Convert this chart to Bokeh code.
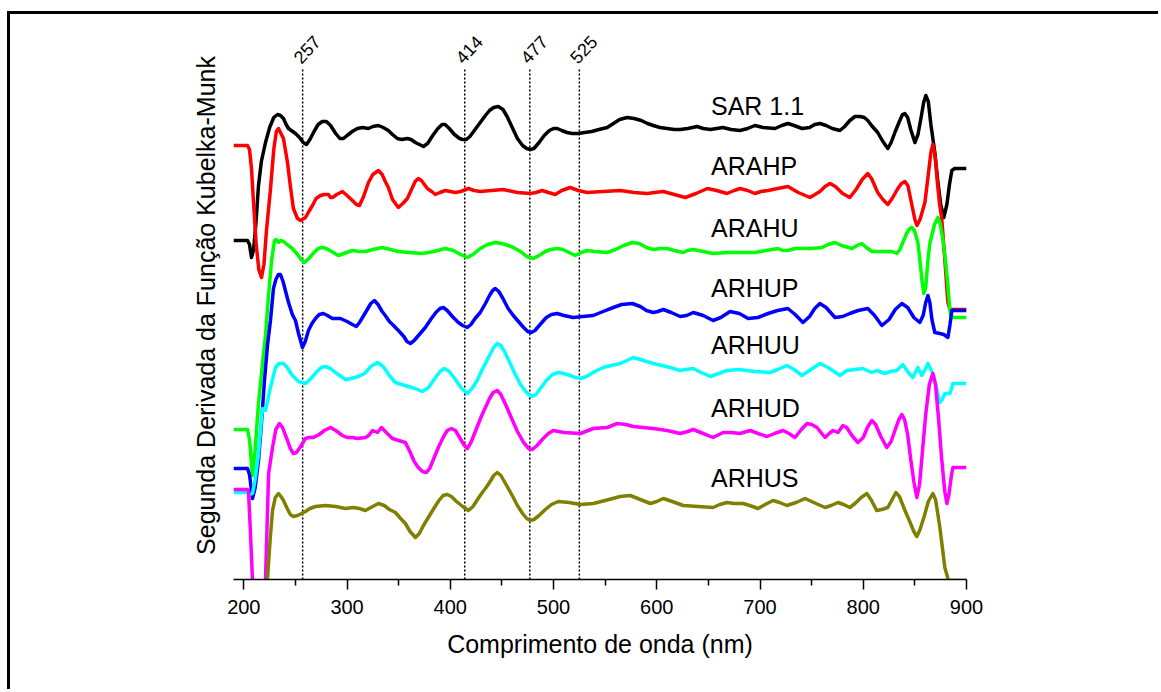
from bokeh.plotting import figure
from bokeh.models import FixedTicker, Range1d
from bokeh.embed import file_html
from bokeh.resources import INLINE
from bokeh.core.properties import value

FONT = "Liberation Sans"

# Second derivative of the Kubelka-Munk function, one trace per sample
# (wavelength in nm, stacked values in arbitrary units)
sar_nm = [190, 203.6, 205.5, 207.4, 209.5, 212, 214.2, 217, 221, 225, 229, 232.6, 235.5, 238.4, 241,
          243.3, 246, 250, 254, 257.5, 260.7, 264, 268, 272, 276, 280, 284, 289, 293, 296.5, 300,
          305, 310, 315, 320.7, 325, 330.4, 335, 340, 344, 348.7, 353, 358.4, 362, 366.2, 370,
          374, 378, 383, 388, 392, 395, 399, 404, 409, 412, 415.5, 419, 424, 429, 434, 438, 442,
          446.5, 451, 455, 460, 465, 470, 474, 477.5, 481, 486, 491, 496, 500, 503.6, 508, 513,
          518, 524, 530, 537, 544, 552, 558, 564, 571.4, 578, 585, 591, 596.6, 603, 610, 617,
          622.7, 630, 639, 645, 652, 658, 664, 672, 680.7, 688, 695, 703, 714.5, 721, 727, 733,
          740.7, 748, 753, 758, 764, 770, 777.4, 782, 787, 792, 797, 801, 804.4, 808, 814, 819,
          823.8, 827, 831, 835, 838, 840.3, 843, 846, 850, 853, 856, 858.5, 860.6, 863, 865.5,
          869.3, 872, 875, 878, 881, 883.5, 885.8, 888.5, 900]
sar_val = [339, 339, 335, 322, 330, 360, 394, 418, 437, 452, 462, 465, 464, 461, 455,
           451, 449, 446, 442, 437, 435, 440, 448, 455, 458, 458, 454, 446, 441, 441, 444,
           448, 451, 452, 451, 453, 454, 452, 449, 445, 441, 440, 441, 440, 437, 435,
           433, 436, 444, 451, 455, 455, 451, 445, 441, 440, 440, 443, 450, 457, 464, 469, 472,
           473, 470, 463, 452, 441, 434, 431, 430, 431, 437, 444, 449, 451, 451, 449, 447,
           446, 446, 447, 448, 450, 452, 456, 460, 462, 461, 459, 456, 454, 452, 451, 450,
           450, 451, 453, 451, 450, 451, 452, 450, 449, 451, 454, 452, 451, 454, 456, 454,
           451, 452, 455, 456, 454, 451, 449, 453, 459, 463, 463, 462, 459, 454, 447, 438,
           431, 437, 448, 458, 465, 466, 462, 450, 437, 445, 462, 477, 484, 478, 455,
           427, 400, 375, 362, 375, 395, 409, 411, 411]

arahp_nm = [190, 203.6, 205.5, 207.5, 209.4, 212, 214.5, 217.1, 219.5, 222, 225.8, 229, 231.5, 233.6,
            236, 238.4, 242.3, 245, 248, 252, 255, 259.7, 263, 266.5, 270, 274.2, 278, 282, 284,
            285.8, 290, 295.5, 300, 305.2, 309, 312, 316, 320.7, 325, 330.4, 334, 337, 340, 344,
            349.7, 354, 358.4, 362, 366, 369, 372, 377.8, 382, 385.5, 390, 395.2, 400, 405, 410,
            417.5, 423, 429, 440, 451.3, 465, 477.5, 483, 489, 495, 501.7, 508, 516, 524, 532.7,
            548, 564.6, 578, 590.8, 598, 606.3, 617, 627.6, 638, 649, 658, 668, 675, 680.7, 688,
            695, 701, 707.8, 717, 727, 737, 748.4, 758, 763, 767.8, 773, 780, 787, 793, 799, 804.4,
            808, 811, 814, 819, 823.8, 828, 833.5, 837, 840.3, 843.2, 847, 850, 852, 855, 859.7,
            863, 865.5, 867.4, 869.5, 872, 874, 876, 879, 882, 884, 885.8, 900]
arahp_val = [434, 434, 430, 410, 377, 335, 310, 302, 315, 350, 390, 430, 448, 451,
             446, 441, 417, 394, 371, 361, 359, 362, 368, 374, 381, 384, 385, 385, 382,
             382, 385, 388, 384, 379, 375, 374, 383, 397, 405, 409, 405, 398, 392, 380,
             372, 376, 381, 389, 398, 401, 399, 391, 388, 385, 387, 389, 388, 387, 388,
             391, 389, 388, 389, 390, 387, 386, 387, 389, 387, 385, 389, 392, 389, 387,
             388, 389, 387, 386, 387, 388, 385, 382, 386, 391, 389, 386, 389, 391, 389,
             386, 388, 389, 391, 393, 387, 382, 388, 393, 396, 393, 386, 382, 390, 400, 406,
             401, 394, 387, 380, 375, 381, 391, 396, 398, 394, 375, 360, 354, 360, 377,
             405, 427, 435, 425, 395, 375, 361, 320, 277, 270, 270, 270]

arahu_nm = [190, 203.6, 205.5, 208.4, 211, 214.2, 218, 221, 224, 227, 229.7, 231.5, 233.6, 235.5,
            238.4, 242, 247, 252, 255.5, 258.7, 263, 268, 272, 276, 280, 285, 291.6, 297, 305, 312,
            317.8, 325, 334, 342, 349.7, 360, 373, 384, 395, 403, 410, 416.5, 422, 429, 436, 443.6,
            450, 456, 461, 468, 474, 480.4, 486, 492, 497, 503.6, 509, 515, 521, 527, 532.7, 540,
            552, 560, 568, 576.3, 583, 590, 596.6, 603, 610, 617, 625.6, 630, 635.3, 645, 654.5,
            668, 680.7, 695, 706, 717.4, 722, 727, 734, 740.7, 750, 760, 766, 772.6, 779, 789, 794,
            798.7, 803, 808.3, 818, 827.7, 832.5, 835.5, 838.3, 842, 845, 847, 849.5, 852.9, 855,
            857, 858.7, 860.5, 862.5, 864.5, 866.4, 869, 872.2, 874.5, 877, 879.5, 882, 884, 884.9,
            886.8, 900]
arahu_val = [150, 150, 140, 104, 130, 176, 215, 244, 285, 320, 339, 340, 337, 339,
             338, 335, 331, 325, 320, 317, 321, 327, 331, 332, 331, 328, 324, 326, 329, 328,
             328, 330, 332, 330, 328, 327, 326, 328, 331, 329, 325, 322, 325, 331, 335, 337,
             336, 334, 332, 328, 323, 321, 324, 328, 330, 331, 330, 327, 324, 327, 329, 328,
             327, 330, 334, 337, 336, 332, 330, 331, 331, 329, 327, 329, 330, 328, 326,
             327, 327, 327, 329, 331, 329, 329, 331, 331, 331, 332, 335, 337, 334, 331, 334,
             336, 332, 328, 328, 328, 326, 330, 337, 346, 351, 352, 349, 337, 318,
             298, 286, 292, 318, 336, 344, 355, 362, 356, 341, 320, 294, 268, 264,
             262, 262]

arhup_nm = [190, 203.6, 205.5, 208.4, 211, 214.2, 217, 220, 223, 225.8, 228.7, 231, 233.5, 235.5,
            238, 240.5, 243.3, 247, 250, 253, 256.8, 259.5, 262.6, 266, 269.4, 273, 277, 281, 285.8,
            290, 293.6, 300, 305.2, 309, 312, 315, 319, 323, 326.5, 330, 334, 337, 341, 345, 349.7,
            355, 358, 361.3, 365, 370, 375.8, 381, 386, 390, 393.3, 397, 402, 407.8, 412, 416.5,
            420, 424, 429, 434, 438, 441, 443.6, 447, 451, 456, 461, 466, 471, 475, 478.4, 482,
            487, 493, 498, 503.6, 510, 519, 528, 538.5, 548, 557.9, 566, 576.3, 584, 590, 596.6,
            601, 606.3, 614, 622.7, 629, 635.3, 645, 654.5, 662, 671, 680, 688.5, 698, 707.8, 717,
            727, 734, 741.6, 748, 753, 758, 764, 772.6, 780, 787, 795, 804.4, 811, 818, 825, 831,
            837.4, 843, 849, 854.8, 858, 860.5, 862.6, 864.5, 866.5, 869.3, 874.2, 878, 882, 884,
            885.8, 900]
arhup_val = [111, 111, 105, 81, 92, 119, 155, 199, 235, 259, 291, 300, 305, 305,
             298, 288, 277, 265, 259, 246, 232, 238, 249, 256, 261, 265, 266, 264, 261,
             261, 261, 258, 255, 253, 257, 262, 269, 276, 279, 275, 268, 264, 258, 254, 249,
             243, 238, 236, 239, 245, 252, 260, 267, 271, 272, 269, 263, 257, 254, 252,
             255, 261, 267, 276, 284, 289, 291, 288, 281, 271, 264, 258, 252, 248, 247, 249,
             255, 262, 265, 266, 264, 262, 263, 264, 268, 272, 275, 276, 273, 269, 267,
             268, 270, 267, 263, 264, 267, 264, 259, 262, 268, 266, 261, 262, 266, 269,
             271, 265, 257, 263, 271, 276, 272, 262, 263, 266, 269, 271, 264, 254, 260, 270,
             276, 272, 262, 257, 264, 277, 284, 277, 260, 247, 246, 245, 242, 255,
             269, 269]

arhuu_nm = [190, 203.6, 206, 208.4, 211, 214.2, 218, 221, 225.8, 230.7, 234, 238.4, 242, 247, 253,
            259.7, 265, 270, 275, 279, 284, 290, 298.4, 304, 311, 317, 323, 329.4, 335, 341, 346.8,
            353, 359.4, 366, 373, 379, 385, 390, 394.2, 399, 405, 411, 416.5, 421, 426, 430, 434,
            438, 442, 445.5, 449, 453, 458, 463, 468, 473, 476, 479.4, 483, 488, 493, 499, 504.6,
            510, 516, 521, 526, 532, 540, 548, 556, 564.6, 571, 577.2, 584, 590, 596.6, 605, 613,
            622.7, 628, 635.3, 643, 651.8, 660, 668, 680, 695, 709.7, 717, 726, 733, 740.7, 748,
            758, 766, 777.4, 784, 792, 799.6, 808.3, 813, 821, 826, 832.5, 838.3, 843, 848, 852.9,
            856.7, 860, 862.6, 865, 867.4, 870, 874.2, 876.5, 879, 884, 886.8, 900]
arhuu_val = [87, 87, 85, 86, 100, 126, 171, 169, 192, 212, 216, 216, 212, 204, 198,
             196, 201, 207, 212, 213, 211, 206, 200, 201, 203, 206, 213, 217, 213, 204, 197,
             195, 193, 191, 188, 192, 201, 208, 211, 208, 200, 191, 186, 191, 199, 208, 216,
             224, 232, 236, 234, 227, 216, 205, 195, 188, 185, 183, 185, 192, 199, 205, 207,
             206, 204, 202, 201, 203, 208, 212, 214, 216, 219, 222, 220, 218, 216, 214, 212,
             209, 210, 211, 207, 203, 206, 209, 210, 208, 207, 210, 214, 210, 204, 209,
             216, 212, 204, 209, 210, 211, 207, 209, 206, 208, 209, 215, 208, 202, 212,
             204, 210, 216, 211, 206, 195, 177, 180, 186, 186, 196, 196]

arhud_nm = [190, 203.6, 204.5, 206.5, 208.4, 213, 221, 224, 227.8, 231, 234.5, 237.5, 240, 242.3,
            245, 248, 251, 255, 259.7, 263, 267.4, 273, 278, 284, 289, 295.5, 300, 305.2, 310,
            317.8, 321, 324.6, 329.4, 333.3, 338, 344, 350, 356.5, 361.3, 365, 369, 373, 376.8,
            380, 384, 388.4, 393, 397, 401, 405, 409, 413, 416.5, 420, 425, 430, 434, 438, 441.5,
            445.5, 449, 454, 459, 465, 471, 476, 479.4, 484, 490, 495, 499.7, 510, 526, 538.5,
            552, 561.7, 570, 577.2, 587, 596.6, 610, 622.7, 630, 635.3, 645, 654.5, 664.3, 672,
            680.7, 690.4, 698, 706.8, 714, 722.3, 728, 733.9, 740, 745.5, 750, 755.2, 759, 763,
            767, 770.7, 775.5, 780.3, 784, 789, 794.8, 800, 804, 808.3, 812, 817, 822.8, 827, 831,
            834.5, 837.4, 840, 843, 846, 849, 851.9, 854.5, 857.5, 860.5, 864, 867.4, 870, 873,
            876, 879, 881, 883, 885.5, 886.8, 900]
arhud_val = [90, 90, 89, 45, -1, -60, 0, 106, 132, 150, 156, 152, 145, 139,
             131, 126, 127, 133, 141, 142, 142, 145, 149, 152, 149, 144, 142, 142, 141,
             142, 144, 149, 147, 152, 147, 141, 139, 137, 127, 118, 112, 108, 107,
             111, 121, 132, 142, 149, 151, 149, 142, 135, 131, 137, 150, 163, 172, 181, 187,
             189, 185, 174, 162, 148, 137, 131, 130, 134, 141, 146, 149, 147, 146, 151,
             152, 156, 155, 153, 152, 151, 149, 146, 148, 150, 146, 142, 147, 147,
             146, 149, 146, 143, 146, 149, 146, 142, 150, 156, 155, 152, 147, 142,
             146, 149, 147, 154, 152, 144, 137, 142, 152, 159, 155, 143, 132, 138, 150,
             160, 165, 160, 145, 120, 98, 82, 95, 130, 165, 195, 206, 195, 160,
             120, 88, 76, 85, 105, 112, 112]

arhus_nm = [190, 215, 222.9, 225.5, 227.8, 230.5, 233.6, 236, 238.4, 242, 245, 248, 252, 256, 259.7,
            264, 269.4, 279, 289, 298.4, 306, 312, 317.8, 323, 330.4, 336, 341, 346.8, 351, 356.5,
            361, 366.2, 370, 374, 378.7, 384, 389, 393, 397.1, 401, 406, 412, 417.5, 422, 427, 431,
            434, 438, 442, 445.5, 449, 454, 460, 465, 470, 474, 477.5, 481, 486, 492, 498, 504.6,
            515, 526, 538.5, 550, 564.6, 574.3, 584, 593.7, 600, 606.3, 615, 625.6, 640, 654.5,
            661, 668, 675, 683.6, 690, 698, 705, 712.6, 719, 726, 735, 743.6, 752, 763, 769, 775.5,
            781, 787, 792, 798, 803.5, 808, 813, 818, 823.8, 828, 831.6, 835, 840, 845, 849, 851.9,
            855, 859, 863, 867.4, 870, 872, 874.2, 876.5, 879, 882, 883, 900]
arhus_val = [-30, -30, 0, 40, 69, 82, 86, 83, 79, 71, 65, 63, 64, 66, 68,
             71, 73, 74, 73, 71, 72, 71, 69, 72, 76, 74, 70, 67, 62, 56,
             48, 42, 46, 54, 62, 71, 79, 84, 85, 83, 78, 73, 69, 73, 81, 87,
             91, 97, 104, 107, 104, 95, 84, 74, 66, 61, 59, 60, 64, 70, 75, 78,
             77, 75, 76, 79, 83, 84, 80, 76, 78, 81, 78, 74, 73, 72,
             75, 77, 76, 76, 74, 71, 75, 79, 77, 74, 77, 81, 77, 72, 74, 77,
             75, 72, 76, 82, 86, 79, 69, 70, 72, 80, 87, 83, 70, 58, 48, 43,
             50, 63, 78, 86, 80, 67, 52, 33, 12, 1, -1, -1]

sample_names = ["SAR 1.1", "ARAHP", "ARAHU", "ARHUP", "ARHUU", "ARHUD", "ARHUS"]
sample_nm = [sar_nm, arahp_nm, arahu_nm, arhup_nm, arhuu_nm, arhud_nm, arhus_nm]
sample_val = [sar_val, arahp_val, arahu_val, arhup_val, arhuu_val, arhud_val, arhus_val]
sample_colors = ["#000000", "#ff0000", "#00ff00", "#0000ff", "#00ffff", "#ff00ff", "#808000"]

# Marked wavelengths (dotted reference lines)
marker_nm = [257, 414, 477, 525]
marker_text = ["257", "414", "477", "525"]

x_ticks = [200, 300, 400, 500, 600, 700, 800, 900]
x_minor = [250, 350, 450, 550, 650, 750, 850]

# Placement of the sample names next to their traces
name_x = 652.5
name_y = [474, 414, 352, 292, 235, 172, 102]

p = figure(width=1151, height=678, x_range=Range1d(190, 900), y_range=Range1d(0, 548),
           output_backend="svg", toolbar_location=None,
           min_border_left=223, min_border_right=195, min_border_top=17, min_border_bottom=113)
p.styles = {"margin-left": "7px", "margin-top": "11px",
            "border-left": "3px solid black", "border-top": "3px solid black"}
p.background_fill_color = "white"
p.border_fill_color = "white"
p.outline_line_color = None
p.xgrid.visible = False
p.ygrid.visible = False

# Dotted reference lines with rotated labels
p.segment(x0=marker_nm, y0=[0] * len(marker_nm), x1=marker_nm, y1=[512] * len(marker_nm),
          line_color="black", line_width=1.5, line_dash="2 2")
p.text(x=marker_nm, y=[519] * len(marker_nm), text=marker_text, angle=47, angle_units="deg",
       x_offset=-6, text_font=value(FONT), text_font_size="18px", text_color="black",
       text_align="left", text_baseline="alphabetic")

for nm, val, col in zip(sample_nm, sample_val, sample_colors):
    p.line(nm, val, line_color=col, line_width=3.5, line_join="round")

p.text(x=[name_x] * len(sample_names), y=name_y, text=sample_names,
       text_font=value(FONT), text_font_size="25px", text_color="black",
       text_align="left", text_baseline="alphabetic")

# Axes
xa = p.xaxis[0]
xa.ticker = FixedTicker(ticks=x_ticks, minor_ticks=x_minor)
xa.axis_label = "Comprimento de onda (nm)"
xa.axis_label_text_font = FONT
xa.axis_label_text_font_size = "25px"
xa.axis_label_text_font_style = "normal"
xa.axis_label_text_color = "black"
xa.axis_label_standoff = 13
xa.major_label_text_font = FONT
xa.major_label_text_font_size = "20px"
xa.major_label_text_color = "black"
xa.major_label_standoff = 10
xa.axis_line_color = "black"
xa.axis_line_width = 1.5
xa.major_tick_line_color = "black"
xa.minor_tick_line_color = "black"
xa.major_tick_line_width = 1.5
xa.minor_tick_line_width = 1.5
xa.major_tick_out = 10
xa.major_tick_in = 0
xa.minor_tick_out = 6
xa.minor_tick_in = 0

ya = p.yaxis[0]
ya.ticker = FixedTicker(ticks=[])
ya.axis_line_color = None
ya.major_tick_line_color = None
ya.minor_tick_line_color = None
ya.axis_label = "Segunda Derivada da Função Kubelka-Munk"
ya.axis_label_text_font = FONT
ya.axis_label_text_font_size = "25px"
ya.axis_label_text_font_style = "normal"
ya.axis_label_text_color = "black"
ya.axis_label_standoff = 14

open("out.html", "w").write(file_html(p, INLINE))
